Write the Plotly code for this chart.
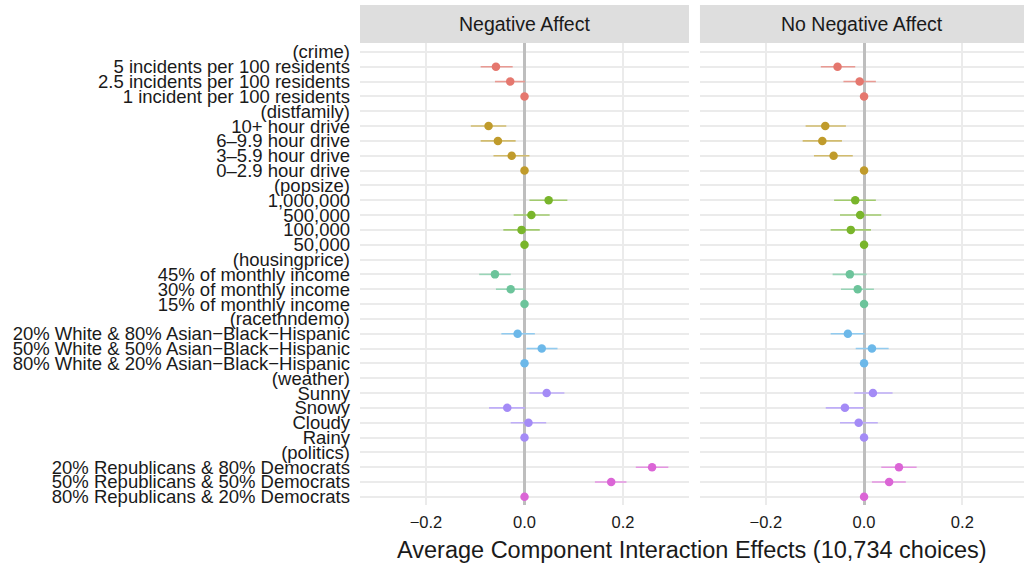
import plotly.graph_objects as go

labels = [
    "(crime)", "5 incidents per 100 residents", "2.5 incidents per 100 residents", "1 incident per 100 residents",
    "(distfamily)", "10+ hour drive", "6\u20139.9 hour drive", "3\u20135.9 hour drive", "0\u20132.9 hour drive",
    "(popsize)", "1,000,000", "500,000", "100,000", "50,000",
    "(housingprice)", "45% of monthly income", "30% of monthly income", "15% of monthly income",
    "(racethndemo)", "20% White & 80% Asian\u2212Black\u2212Hispanic", "50% White & 50% Asian\u2212Black\u2212Hispanic",
    "80% White & 20% Asian\u2212Black\u2212Hispanic",
    "(weather)", "Sunny", "Snowy", "Cloudy", "Rainy",
    "(politics)", "20% Republicans & 80% Democrats", "50% Republicans & 50% Democrats", "80% Republicans & 20% Democrats",
]
groups = ["crime"] * 4 + ["distfamily"] * 5 + ["popsize"] * 5 + ["housingprice"] * 4 + \
         ["racethndemo"] * 4 + ["weather"] * 5 + ["politics"] * 4
group_order = ["crime", "distfamily", "popsize", "housingprice", "racethndemo", "weather", "politics"]
point_colors = ["#E5776E", "#C09B2B", "#79B52B", "#6CC49B", "#6CB8E9", "#A48BF6", "#DB65D6"]
bar_colors = ["#E99A93", "#D2BC6E", "#A2CB6E", "#99D5B7", "#92CBEF", "#BFAEF8", "#E595E2"]

N = None
neg_est = [N, -0.058, -0.029, 0.0, N, -0.073, -0.054, -0.026, 0.0, N, 0.049, 0.014, -0.006, 0.0,
           N, -0.060, -0.028, 0.0, N, -0.014, 0.035, 0.0, N, 0.045, -0.035, 0.008, 0.0,
           N, 0.259, 0.176, 0.0]
neg_lo = [N, -0.089, -0.060, 0.0, N, -0.109, -0.089, -0.063, 0.0, N, 0.010, -0.022, -0.043, 0.0,
          N, -0.092, -0.058, 0.0, N, -0.047, 0.004, 0.0, N, 0.010, -0.072, -0.028, 0.0,
          N, 0.226, 0.143, 0.0]
neg_hi = [N, -0.024, 0.001, 0.0, N, -0.037, -0.018, 0.010, 0.0, N, 0.087, 0.051, 0.031, 0.0,
          N, -0.028, 0.001, 0.0, N, 0.021, 0.067, 0.0, N, 0.081, 0.001, 0.044, 0.0,
          N, 0.292, 0.207, 0.0]

non_est = [N, -0.054, -0.009, 0.0, N, -0.079, -0.085, -0.062, 0.0, N, -0.018, -0.008, -0.027, 0.0,
           N, -0.029, -0.013, 0.0, N, -0.033, 0.016, 0.0, N, 0.018, -0.039, -0.011, 0.0,
           N, 0.071, 0.051, 0.0]
non_lo = [N, -0.088, -0.042, 0.0, N, -0.119, -0.125, -0.102, 0.0, N, -0.061, -0.049, -0.068, 0.0,
          N, -0.064, -0.047, 0.0, N, -0.068, -0.017, 0.0, N, -0.020, -0.078, -0.049, 0.0,
          N, 0.035, 0.016, 0.0]
non_hi = [N, -0.018, 0.024, 0.0, N, -0.037, -0.045, -0.023, 0.0, N, 0.024, 0.035, 0.014, 0.0,
          N, 0.005, 0.020, 0.0, N, 0.001, 0.050, 0.0, N, 0.058, 0.000, 0.028, 0.0,
          N, 0.107, 0.085, 0.0]

panels = ["Negative Affect", "No Negative Affect"]
x_ticks = [-0.2, 0.0, 0.2]
x_ticktext = ["\u22120.2", "0.0", "0.2"]

fig = go.Figure()

for pi, (est, lo, hi) in enumerate([(neg_est, neg_lo, neg_hi), (non_est, non_lo, non_hi)]):
    xa = "x" if pi == 0 else "x2"
    ya = "y" if pi == 0 else "y2"
    for gi, g in enumerate(group_order):
        idx = [i for i in range(len(labels)) if groups[i] == g and est[i] is not None]
        xs = [est[i] for i in idx]
        ys = idx
        ep = [hi[i] - est[i] for i in idx]
        em = [est[i] - lo[i] for i in idx]
        fig.add_trace(go.Scatter(
            x=xs, y=ys, mode="markers", xaxis=xa, yaxis=ya, showlegend=False,
            marker=dict(color=point_colors[gi], size=8.5),
            error_x=dict(type="data", array=ep, arrayminus=em, color=bar_colors[gi],
                         thickness=1.6, width=0),
        ))

grid_c = "#EBEBEB"
font_fam = "Liberation Sans"
common_x = dict(tickvals=x_ticks, ticktext=x_ticktext, showgrid=True, gridcolor=grid_c, gridwidth=1.6,
                zeroline=True, zerolinecolor="#BEBEBE", zerolinewidth=2.6, showline=False,
                ticks="", tickfont=dict(size=16.5, color="#1a1a1a", family=font_fam),
                ticklabelstandoff=5)
common_y = dict(range=[30.55, -0.6], tickmode="array", tickvals=list(range(len(labels))),
                showgrid=True, gridcolor=grid_c, gridwidth=1.6, zeroline=False, ticks="")
fig.update_layout(
    xaxis=dict(domain=[0, 0.4955], range=[-0.334, 0.334], **common_x),
    xaxis2=dict(domain=[0.512, 1.0], range=[-0.334, 0.3255], **common_x),
    yaxis=dict(ticktext=labels, tickfont=dict(size=18.5, color="#1a1a1a", family=font_fam),
               ticklabelstandoff=9, anchor="x", **common_y),
    yaxis2=dict(showticklabels=False, anchor="x2", **common_y),
    width=1024, height=565,
    margin=dict(l=360, r=0, t=43, b=60, autoexpand=False),
    paper_bgcolor="white", plot_bgcolor="white",
    font=dict(family=font_fam, color="#1a1a1a"),
)

strip_h = 38 / 462
for dom, name in zip([[0, 0.4955], [0.512, 1.0]], panels):
    fig.add_shape(type="rect", xref="paper", yref="paper", x0=dom[0], x1=dom[1], y0=1.0, y1=1 + strip_h,
                  fillcolor="#DEDEDE", line=dict(width=0), layer="below")
    fig.add_annotation(xref="paper", yref="paper", x=(dom[0] + dom[1]) / 2, y=1 + strip_h / 2,
                       text=name, showarrow=False, font=dict(size=19.5, color="#1a1a1a"),
                       xanchor="center", yanchor="middle")

fig.add_annotation(xref="paper", yref="paper", x=0.5, y=-0.0975, yanchor="middle", xanchor="center",
                   text="Average Component Interaction Effects (10,734 choices)", showarrow=False,
                   font=dict(size=23.5, color="#1a1a1a"))

fig.write_html("out.html", config={"displayModeBar": False},
               post_script="document.body.style.margin='0';document.body.style.overflow='hidden';")
